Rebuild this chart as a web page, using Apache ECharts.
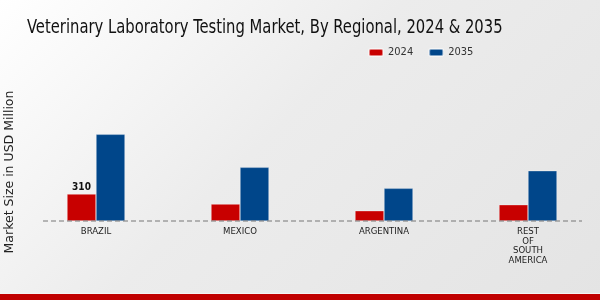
<!DOCTYPE html>
<html>
<head>
<meta charset="utf-8">
<script src="https://cdn.jsdelivr.net/npm/echarts@6/dist/echarts.min.js"></script>
<style>
html,body{margin:0;padding:0;}
#c{width:600px;height:300px;background:linear-gradient(135deg,#ffffff 0%,#ececec 45%,#e4e4e4 100%);}
</style>
</head>
<body>
<div id="c"></div>
<script>
const categories = ['BRAZIL', 'MEXICO', 'ARGENTINA', 'REST\nOF\nSOUTH\nAMERICA'];
const values2024 = [310, 195, 118, 187];
const values2035 = [995, 616, 375, 577];
const seriesNames = ['2024', '2035'];
const titleText = 'Veterinary Laboratory Testing Market, By Regional, 2024 & 2035';
const axisName = 'Market Size in USD Million';

const chart = echarts.init(document.getElementById('c'));
const font = 'DejaVu Sans Condensed';
chart.setOption({
  animation: false,
  legend: {
    data: seriesNames,
    left: 363, top: 42,
    itemWidth: 14, itemHeight: 7, itemGap: 15,
    textStyle: {fontFamily: font, fontSize: 11, color: '#333'}
  },
  grid: {left: 24, right: 0, top: 99, bottom: 79},
  xAxis: {
    type: 'category',
    data: categories,
    axisLine: {show: false},
    axisTick: {show: false},
    axisLabel: {fontFamily: font, fontSize: 9.5, color: '#222', margin: 6, lineHeight: 9.5}
  },
  yAxis: {
    type: 'value', min: 0, max: 1400,
    show: false, splitLine: {show: false}
  },
  series: [
    {
      name: seriesNames[0], type: 'bar', data: values2024,
      barWidth: 29, barGap: '0%',
      itemStyle: {color: '#c80000', borderColor: 'rgba(255,255,255,0.5)', borderWidth: 0.6},
      label: {
        show: true, position: 'top', distance: 2,
        formatter: p => p.dataIndex === 0 ? String(p.value) : '',
        fontFamily: font, fontSize: 10, fontWeight: 'bold', color: '#111'
      }
    },
    {
      name: seriesNames[1], type: 'bar', data: values2035,
      barWidth: 29,
      itemStyle: {color: '#00468a', borderColor: 'rgba(255,255,255,0.5)', borderWidth: 0.6}
    }
  ]
});
const y0 = chart.convertToPixel({yAxisIndex: 0}, 0);
chart.setOption({
  graphic: [
    {type: 'text', x: 27, y: 28, scaleX: 0.865, scaleY: 1,
     style: {text: titleText, fontFamily: font, fontSize: 19, fill: '#111',
       align: 'left', verticalAlign: 'middle'}},
    {type: 'line', shape: {x1: 43, y1: y0, x2: 582, y2: y0}, z: 10,
     style: {stroke: '#777', lineWidth: 1, lineDash: [5, 3]}},
    {type: 'text', x: 10, y: 172, rotation: Math.PI / 2,
     style: {text: axisName, fontFamily: 'DejaVu Sans', fontSize: 12.5,
       fill: '#222', align: 'center', verticalAlign: 'middle'}},
    {type: 'rect', shape: {x: 0, y: 294, width: 600, height: 6}, style: {fill: '#c00000'}},
    {type: 'rect', shape: {x: 0, y: 293, width: 600, height: 1}, style: {fill: '#f4f4f4'}}
  ]
});
</script>
</body>
</html>
